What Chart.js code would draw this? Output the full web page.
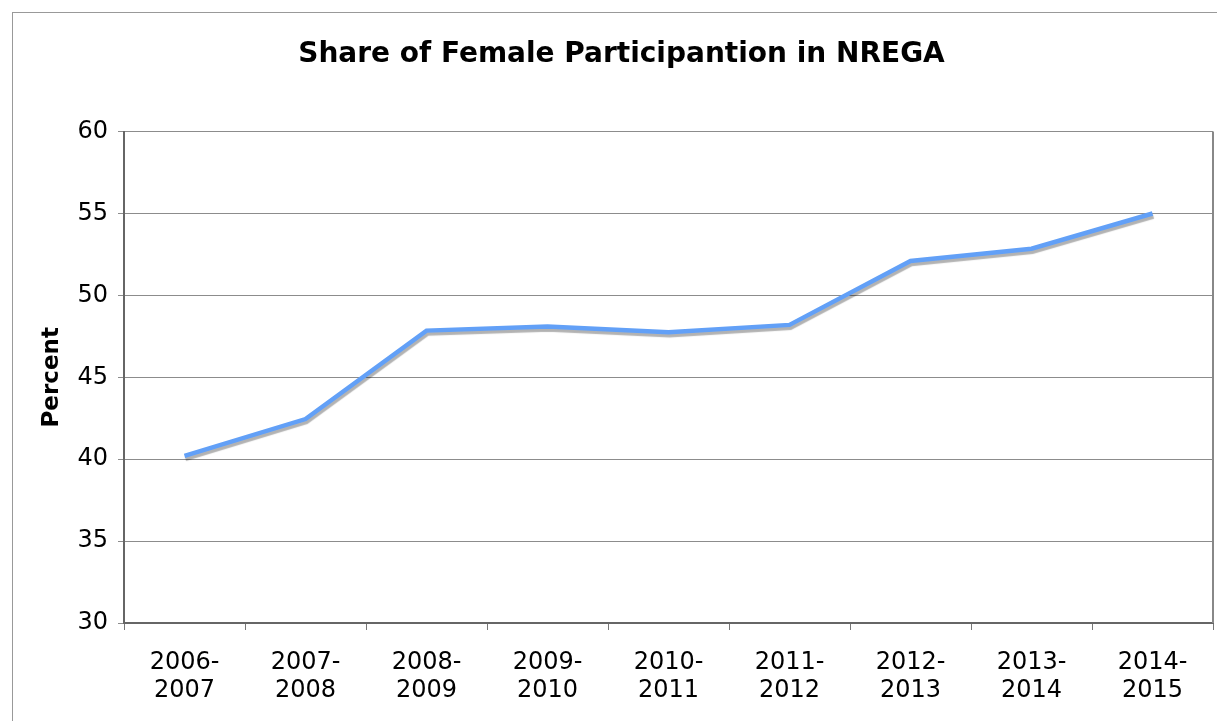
<!DOCTYPE html>
<html>
<head>
<meta charset="utf-8">
<script src="https://cdn.jsdelivr.net/npm/chart.js@4/dist/chart.umd.min.js"></script>
<style>
  html, body { margin: 0; padding: 0; background: #fff; }
  #wrap { position: relative; width: 1217px; height: 721px; overflow: hidden; }
  #frame { position: absolute; left: 12px; top: 12px; width: 1400px; height: 900px; border: 1px solid #999; box-sizing: border-box; }
  canvas { position: absolute; left: 0; top: 0; }
</style>
</head>
<body>
<div id="wrap">
  <div id="frame"></div>
  <canvas id="c" width="1217" height="721"></canvas>
</div>
<script>
const TITLE = 'Share of Female Participantion in NREGA';
const Y_TITLE = 'Percent';
const categories = [
  ['2006-', '2007'], ['2007-', '2008'], ['2008-', '2009'], ['2009-', '2010'],
  ['2010-', '2011'], ['2011-', '2012'], ['2012-', '2013'], ['2013-', '2014'], ['2014-', '2015']
];
const femaleShare = [40.2, 42.45, 47.85, 48.1, 47.75, 48.2, 52.1, 52.85, 55.0];
const yMin = 30, yMax = 60, yStep = 5;

const FONT = 'DejaVu Sans, Verdana, sans-serif';

const shadowPlugin = {
  id: 'lineShadow',
  beforeDatasetDraw(chart) {
    const c = chart.ctx;
    c.save();
    c.shadowColor = 'rgba(0,0,0,0.3)';
    c.shadowOffsetX = 1;
    c.shadowOffsetY = 3;
    c.shadowBlur = 1;
  },
  afterDatasetDraw(chart) { chart.ctx.restore(); }
};

const borderPlugin = {
  id: 'areaBorder',
  afterDraw(chart) {
    const { ctx, chartArea: a } = chart;
    ctx.save();
    ctx.strokeStyle = '#888';
    ctx.lineWidth = 2;
    ctx.beginPath();
    ctx.moveTo(a.right, a.top);
    ctx.lineTo(a.right, a.bottom);
    ctx.stroke();
    ctx.restore();
  }
};

new Chart(document.getElementById('c'), {
  type: 'line',
  data: {
    labels: categories,
    datasets: [{
      data: femaleShare,
      borderColor: '#62a0f7',
      borderWidth: 4.5,
      pointRadius: 0,
      tension: 0,
      fill: false
    }]
  },
  options: {
    responsive: false,
    animation: false,
    layout: { padding: { left: 30, right: 4, top: 0, bottom: 0 } },
    plugins: {
      legend: { display: false },
      tooltip: { enabled: false },
      title: {
        display: true,
        text: TITLE,
        color: '#000',
        font: { family: FONT, size: 28, weight: 'bold' },
        padding: { top: 38, bottom: 60 }
      }
    },
    scales: {
      x: {
        offset: true,
        grid: { offset: true, drawOnChartArea: false, tickLength: 7, color: '#777', lineWidth: 1 },
        border: { color: '#666', width: 2 },
        ticks: { color: '#000', font: { family: FONT, size: 24 }, padding: 18, maxRotation: 0, autoSkip: false },
        afterFit(s) { s.height = 98; }
      },
      y: {
        min: yMin, max: yMax,
        ticks: { stepSize: yStep, color: '#000', font: { family: FONT, size: 24 }, padding: 10 },
        grid: { color: '#8c8c8c', tickLength: 6, lineWidth: 1 },
        border: { color: '#666', width: 2 },
        title: { display: true, text: Y_TITLE, color: '#000', font: { family: FONT, size: 23, weight: 'bold' }, padding: { top: 8, bottom: 0 } },
        afterFit(s) { s.width = 94; }
      }
    }
  },
  plugins: [shadowPlugin, borderPlugin]
});
</script>
</body>
</html>
